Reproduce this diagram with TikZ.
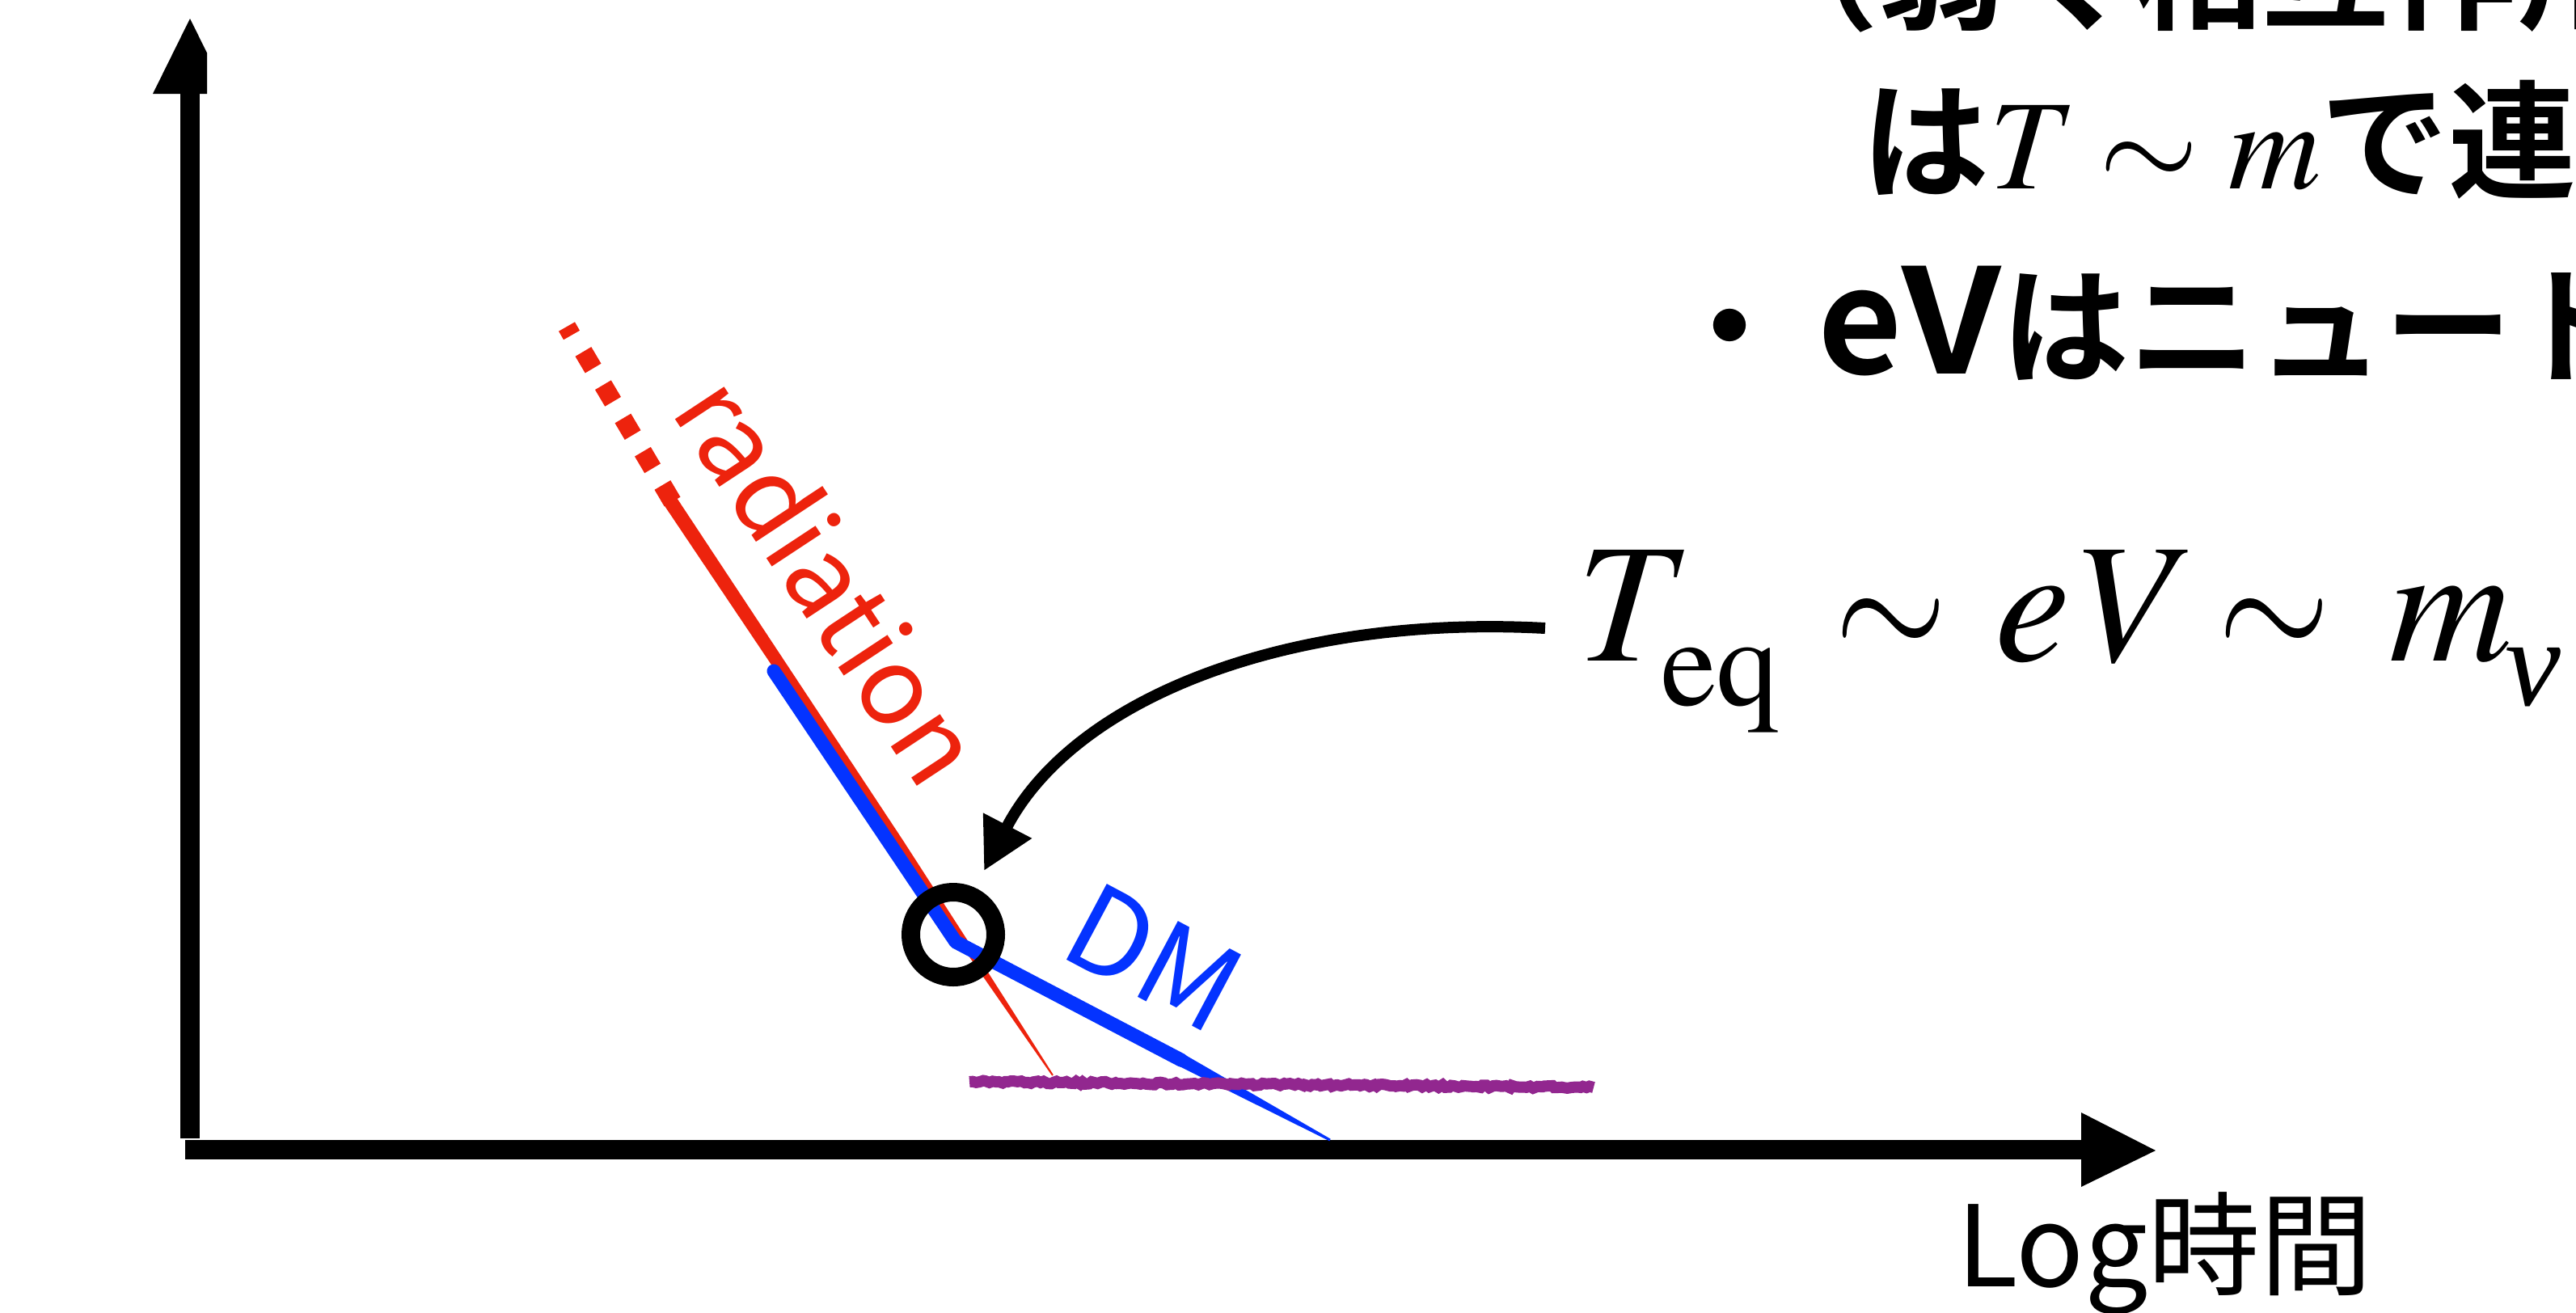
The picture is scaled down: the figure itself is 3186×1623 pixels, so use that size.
\documentclass[tikz,border=0pt]{standalone}
\usepackage{mathptmx}
\usepackage{fontspec}
\setmainfont{Liberation Serif}
\newfontfamily\jp{Noto Sans CJK JP}
\newfontfamily\jpb{Noto Sans CJK JP Bold}
\usetikzlibrary{arrows.meta,decorations.pathmorphing}
\definecolor{radred}{RGB}{237,35,13}
\definecolor{dmblue}{RGB}{4,51,255}
\definecolor{nupurple}{RGB}{146,39,143}
\newcommand\tmi{\fontencoding{T1}\fontfamily{ptm}\fontseries{m}\fontshape{it}\selectfont}
\newcommand\tmr{\fontencoding{T1}\fontfamily{ptm}\fontseries{m}\fontshape{n}\selectfont}
\newcommand\simS{$\sim$}
\newcommand\simN{\scalebox{0.85}[1]{$\sim$}}
\begin{document}
\begin{tikzpicture}[x=1pt,y=-1pt,
  axisline/.style={line width=24pt},
  txt/.style={inner sep=0pt, outer sep=0pt, anchor=base west},
  reddot/.style={radred, line width=23pt},
  ring/.style={circle, draw=black, line width=23pt, minimum size=105pt, inner sep=0pt}]
\pgfmathsetseed{7}
\useasboundingbox (0,0) rectangle (3186,1623);
\clip (0,0) rectangle (3186,1623);
\fill[white] (0,0) rectangle (3186,1623);

% axes
\draw[axisline] (235,116) -- (235,1408);
\fill (235,23) -- (189,116) -- (256,116) -- (256,65.5) -- cycle;
\draw[axisline] (229,1422) -- (2574,1422);
\fill (2574,1376) -- (2666,1423) -- (2574,1468) -- cycle;

% red dotted part
\draw[reddot] (701,404) -- (707,414.5);
\foreach \k in {1,...,5}
  \draw[reddot] ({703+24.5*\k-6.1},{404+41.25*\k-10.3}) -- ({703+24.5*\k+6.1},{404+41.25*\k+10.3});
% red solid tapering
\fill[radred] (832.5,609.0) -- (1117.0,1039.7) -- (1210.3,1184.3) -- (1302.8,1329.4)
  -- (1301.2,1330.6) -- (1202.9,1189.3) -- (1105.4,1047.5) -- (817.5,619.0) -- cycle;

% blue
\draw[dmblue, line width=17pt, line cap=round, line join=round] (957,830) -- (1182,1165) -- (1461,1311.2);
\fill[dmblue] (1464.8,1304.2) -- (1645.7,1408.7) -- (1644.3,1411.3) -- (1457.2,1318.2) -- cycle;

% purple
\draw[nupurple, line width=14pt, decorate, decoration={random steps, segment length=4pt, amplitude=1.6pt}] (1199,1338) -- (1971,1345);

% ring
\node[ring] (eqpt) at (1179,1156) {};

% labels
\node[txt, font=\jp\fontsize{134}{160}\selectfont, text=radred, rotate=-56.6] (rad) at (828,508) {radiation};
\node[txt, font=\jp\fontsize{145}{170}\selectfont, text=dmblue, rotate=-28] (dm) at (1306,1180) {DM};
\node[txt, font=\jp\fontsize{139}{160}\selectfont] (xlabel) at (2420,1591) {Log時間};

\node[txt, font=\fontsize{210}{250}\selectfont] (teq) at (1950,817)
  {{\tmi T}\kern-12pt\raisebox{-55pt}{\fontsize{155}{0}\tmr eq}\hspace{68pt}\simN\hspace{60pt}{\tmi eV}\hspace{54pt}\simN\hspace{73pt}{\tmi m}\kern-8pt\raisebox{-55pt}{\fontsize{155}{0}\selectfont\itshape ν}};

\node[txt, font=\jpb\fontsize{158}{190}\selectfont] (l1) at (2165,24) {（弱く相互作用};
\node[txt, font=\jpb\fontsize{158}{190}\selectfont] (l2) at (2302,233)
  {は{\tmi T}\hspace{49pt}\simS\hspace{37pt}{\tmi m}で連};
\node[txt, font=\jpb\fontsize{158}{190}\selectfont] (l3) at (2060,462)
  {・\hspace{30pt}{\fontsize{180}{200}\selectfont e\scalebox{1.1}[1]{V}}はニュート};

% arrow
\coordinate (astart) at (1911,777);
\coordinate (atip) at (1217,1077);
\draw[line width=14pt, -{Triangle[length=63pt,width=64pt]}] (astart) .. controls (1600,760) and (1330,860) .. (atip);
\end{tikzpicture}
\end{document}
